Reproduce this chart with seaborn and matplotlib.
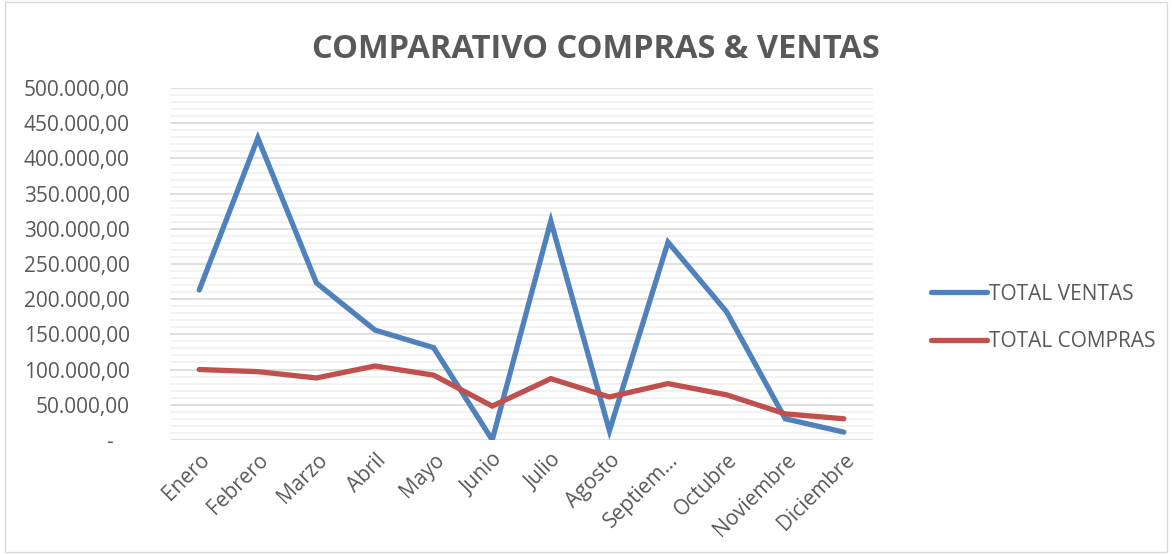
import pandas as pd
import numpy as np
import matplotlib
matplotlib.use('Agg')
import matplotlib.pyplot as plt
import seaborn as sns
from matplotlib.ticker import FuncFormatter, MultipleLocator
from matplotlib.patches import Rectangle

meses = ['Enero', 'Febrero', 'Marzo', 'Abril', 'Mayo', 'Junio', 'Julio',
         'Agosto', 'Septiem…', 'Octubre', 'Noviembre', 'Diciembre']
total_ventas = [213000, 429000, 223000, 156000, 131000, 0, 311000,
                13000, 281000, 182000, 30000, 11000]
total_compras = [100000, 97000, 88000, 105000, 92000, 48000, 87000,
                 61000, 80000, 64000, 37000, 30000]

df = pd.DataFrame({
    'Mes': meses * 2,
    'Valor': total_ventas + total_compras,
    'Serie': ['TOTAL VENTAS'] * 12 + ['TOTAL COMPRAS'] * 12,
})

sns.set_style('white')
plt.rcParams['font.family'] = ['Open Sans', 'DejaVu Sans']
gris = '#595959'

fig = plt.figure(figsize=(11.72, 5.54), dpi=100)
ax = fig.add_axes([0.145, 0.206, 0.600, 0.635])

sns.lineplot(data=df, x='Mes', y='Valor', hue='Serie', sort=False,
             palette={'TOTAL VENTAS': '#4f81bd', 'TOTAL COMPRAS': '#c0504d'},
             linewidth=3.8, ax=ax, legend=True)
for ln in ax.lines:
    ln.set_solid_capstyle('round')
    ln.set_solid_joinstyle('miter')

ax.set_xlim(-0.5, 11.5)
ax.set_ylim(0, 500000)
ax.yaxis.set_major_locator(MultipleLocator(50000))
ax.yaxis.set_minor_locator(MultipleLocator(10000))
ax.grid(which='major', axis='y', color='#d9d9d9', linewidth=1.2)
ax.grid(which='minor', axis='y', color='#f0f0f0', linewidth=1.2)
ax.set_axisbelow(True)


def fmt(v, pos):
    if v == 0:
        return '-   '
    s = f'{v:,.2f}'
    return s.replace(',', 'X').replace('.', ',').replace('X', '.')


ax.yaxis.set_major_formatter(FuncFormatter(fmt))
ax.tick_params(axis='both', length=0, labelsize=15, labelcolor=gris)
ax.tick_params(axis='y', pad=29)
plt.setp(ax.get_xticklabels(), rotation=45, ha='right', rotation_mode='anchor')
ax.tick_params(axis='x', pad=7)
ax.set_xlabel('')
ax.set_ylabel('')
for s in ax.spines.values():
    s.set_visible(False)

leg = ax.legend(loc='center left', bbox_to_anchor=(1.055, 0.347), frameon=False,
                fontsize=15, handlelength=2.7, handletextpad=0.1,
                labelspacing=1.25)
for t in leg.get_texts():
    t.set_color(gris)
for h in leg.get_lines():
    h.set_linewidth(3.8)

fig.text(0.508, 0.91, 'COMPARATIVO COMPRAS & VENTAS', ha='center', va='center',
         fontsize=23.5, fontweight='bold', color=gris)

fig.add_artist(Rectangle((0.004, 0.004), 0.992, 0.992, transform=fig.transFigure,
                         fill=False, edgecolor='#d9d9d9', linewidth=1))

fig.savefig('out.png', dpi=100)
